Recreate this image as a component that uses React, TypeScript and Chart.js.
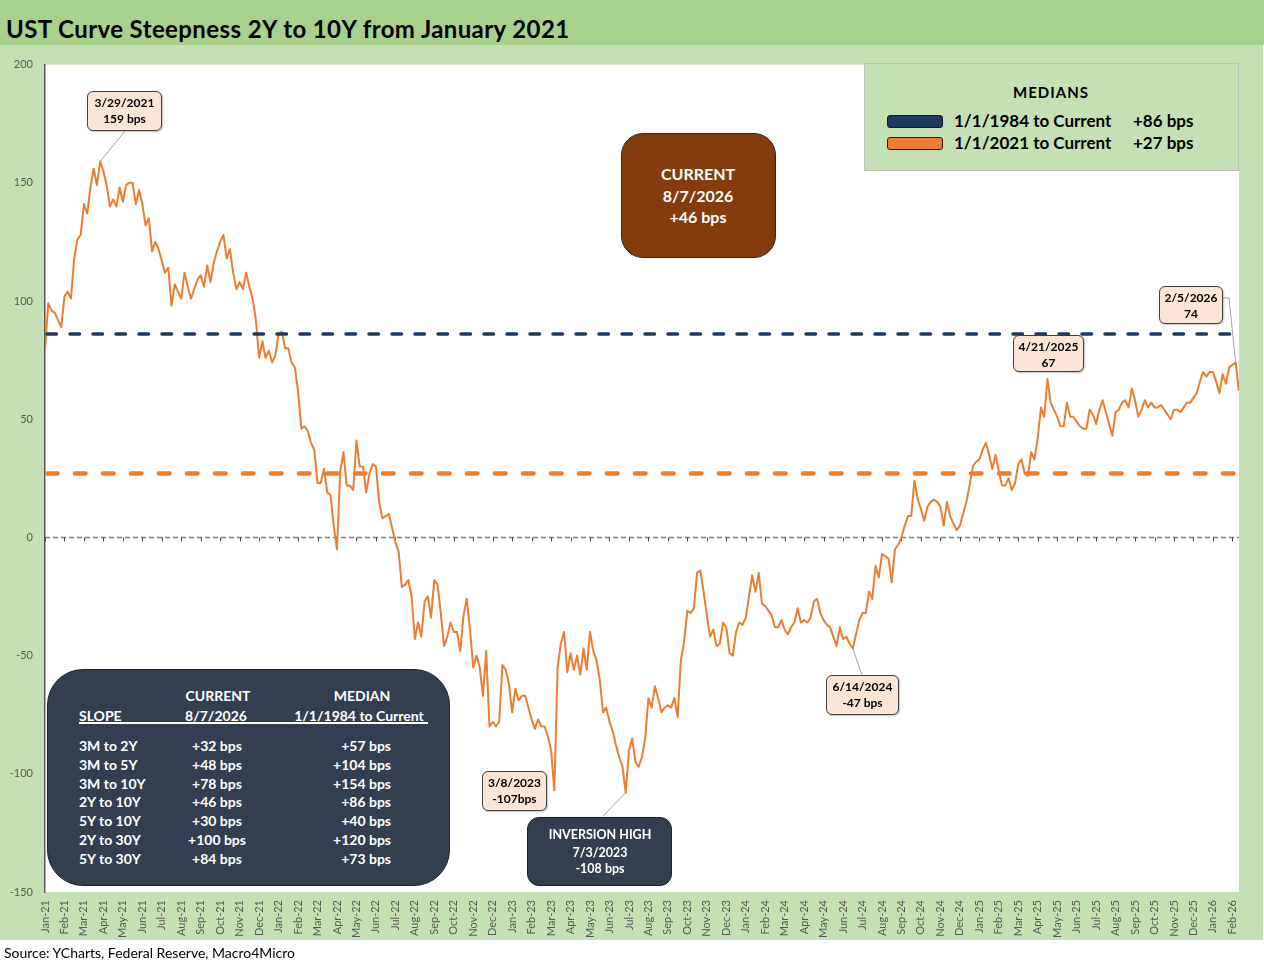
import React, { useEffect, useRef } from 'react';
import { Chart, registerables, type Plugin } from 'chart.js';

Chart.register(...registerables);

// ---- data ----------------------------------------------------------------
const MONTH_NAMES = ['Jan', 'Feb', 'Mar', 'Apr', 'May', 'Jun', 'Jul', 'Aug', 'Sep', 'Oct', 'Nov', 'Dec'];
const YEAR_SUFFIXES = ['21', '22', '23', '24', '25', '26'];
const monthLabels = YEAR_SUFFIXES.flatMap((y) => MONTH_NAMES.map((m) => `${m}-${y}`)).slice(0, 62);

// readings of the 2Y-10Y spread (bps), 6 points per month
const POINTS_PER_MONTH = 6;
const spread2021 = [
  79, 99, 96, 95, 92, 89, 102, 104, 101, 118, 126, 128, 141, 137, 148, 156,
  149, 159, 155, 149, 140, 143, 140, 148, 142, 149, 150, 150, 141, 147, 141, 132,
  135, 121, 125, 122, 117, 112, 114, 98, 107, 104, 101, 112, 106, 101, 105, 109,
  111, 106, 115, 108, 116, 121, 125, 128, 118, 122, 112, 105, 108, 105, 112, 106,
  101, 92, 76, 83, 76, 79, 74, 77,
];
const spread2022 = [
  86, 87, 80, 80, 74, 72, 62, 46, 47, 45, 40, 37, 23, 23, 29, 19,
  18, 5, -5, 28, 36, 22, 22, 20, 41, 30, 30, 19, 27, 31, 30, 15,
  8, 9, 10, 4, -2, -6, -21, -20, -18, -25, -43, -36, -42, -27, -25, -34,
  -18, -20, -32, -46, -42, -36, -40, -40, -48, -33, -26, -39, -55, -50, -55, -67,
  -48, -80, -78, -80, -78, -54, -56, -62,
];
const spread2023 = [
  -74, -64, -69, -67, -67, -72, -77, -81, -77, -80, -80, -84, -90, -107, -55, -45,
  -40, -57, -49, -56, -50, -58, -47, -56, -40, -48, -52, -60, -74, -72, -78, -82,
  -88, -93, -97, -108, -90, -85, -95, -97, -93, -85, -68, -72, -63, -68, -74, -72,
  -71, -72, -68, -76, -52, -44, -31, -32, -30, -15, -14, -23, -33, -42, -39, -46,
  -45, -36, -38, -49, -50, -40, -36, -37,
];
const spread2024 = [
  -34, -25, -16, -23, -15, -28, -29, -31, -33, -38, -38, -35, -39, -41, -38, -36,
  -30, -36, -35, -36, -34, -27, -26, -32, -35, -37, -38, -42, -46, -38, -43, -42,
  -45, -47, -41, -35, -32, -32, -23, -26, -12, -17, -7, -8, -9, -19, -5, -3,
  0, 5, 9, 9, 24, 16, 12, 7, 13, 15, 16, 15, 13, 5, 15, 9,
  6, 3, 5, 10, 15, 22, 30, 32,
];
const spread2025 = [
  33, 37, 40, 35, 29, 35, 28, 22, 22, 25, 20, 23, 31, 33, 27, 26,
  36, 33, 42, 55, 51, 67, 57, 54, 51, 47, 47, 57, 51, 51, 49, 47,
  46, 46, 54, 52, 48, 54, 58, 53, 48, 43, 53, 54, 57, 58, 55, 63,
  58, 51, 54, 58, 55, 57, 55, 55, 56, 54, 52, 50, 54, 54, 53, 55,
  57, 57, 59, 61, 66, 70, 68, 70,
];
const spread2026 = [70, 66, 61, 69, 65, 72, 73, 74, 62];
const spread = [...spread2021, ...spread2022, ...spread2023, ...spread2024, ...spread2025, ...spread2026];

const yTickValues = [-150, -100, -50, 0, 50, 100, 150, 200];

const medianNames = ['1/1/1984 to Current', '1/1/2021 to Current'];
const medianValues = [86, 27];

const calloutDates = ['3/29/2021', '3/8/2023', '6/14/2024', '4/21/2025', '2/5/2026'];
const calloutValues = ['159 bps', '-107bps', '-47 bps', '67', '74'];
const calloutPoint = [17, 157, 249, 309, 367];

const inversionHighPoint = 179;

const currentDate = '8/7/2026';
const currentSpread = 46;

const slopeNames = ['3M to 2Y', '3M to 5Y', '3M to 10Y', '2Y to 10Y', '5Y to 10Y', '2Y to 30Y', '5Y to 30Y'];
const slopeCurrent = [32, 48, 78, 46, 30, 100, 84];
const slopeMedian = [57, 104, 154, 86, 40, 120, 73];

// ---- styles / layout --------------------------------------------------------
const ORANGE = '#ed7d31';
const NAVY = '#203864';
const medianColors = [NAVY, ORANGE];
const FONT = 'Lato, "Open Sans", sans-serif';
const CANVAS_TOP = 46;

const calloutBoxes = [
  { left: 87, top: 91, w: 75, h: 40, leader: [[125, 131]] },
  { left: 482, top: 771, w: 65, h: 40, leader: [] as number[][] },
  { left: 826, top: 675, w: 73, h: 40, leader: [[862, 675]] },
  { left: 1013, top: 335, w: 71, h: 37, leader: [] as number[][] },
  { left: 1159, top: 286, w: 64, h: 38, leader: [[1223, 298], [1229, 298]] },
];

const fmt = (v: number) => `${v >= 0 ? '+' : ''}${v} bps`;

const chartDecor: Plugin<'line'> = {
  id: 'chartDecor',
  beforeDraw(chart) {
    const { ctx, chartArea: a } = chart;
    ctx.save();
    ctx.fillStyle = '#ffffff';
    ctx.fillRect(a.left, a.top, a.right - a.left, a.bottom - a.top);
    ctx.restore();
  },
  beforeDatasetsDraw(chart) {
    const { ctx, chartArea: a, scales } = chart;
    const y0 = scales.y.getPixelForValue(0);
    ctx.save();
    ctx.strokeStyle = '#7f7f7f';
    ctx.lineWidth = 1.5;
    ctx.setLineDash([5, 3]);
    ctx.beginPath();
    ctx.moveTo(a.left, y0);
    ctx.lineTo(a.right, y0);
    ctx.stroke();
    ctx.setLineDash([]);
    ctx.lineWidth = 1;
    ctx.strokeStyle = '#404040';
    monthLabels.forEach((_, i) => {
      const x = Math.round(scales.x.getPixelForValue(i)) + 0.5;
      ctx.beginPath();
      ctx.moveTo(x, y0);
      ctx.lineTo(x, y0 + 4);
      ctx.stroke();
    });
    ctx.restore();
  },
  afterDatasetsDraw(chart) {
    const { ctx, chartArea: a, scales } = chart;
    ctx.save();
    // median lines
    const widths = [3.5, 4.5];
    const dashes = [[9.5, 13.5], [10.5, 17.5]];
    medianValues.forEach((v, k) => {
      const y = scales.y.getPixelForValue(v);
      ctx.strokeStyle = medianColors[k];
      ctx.lineWidth = widths[k];
      ctx.lineCap = 'round';
      ctx.setLineDash(dashes[k]);
      ctx.beginPath();
      ctx.moveTo(a.left + 2, y);
      ctx.lineTo(a.right - 2, y);
      ctx.stroke();
    });
    // leader lines
    ctx.setLineDash([]);
    ctx.lineCap = 'butt';
    ctx.lineWidth = 1;
    ctx.strokeStyle = '#a6a6a6';
    const pt = (p: number) => [scales.x.getPixelForValue(p / POINTS_PER_MONTH), scales.y.getPixelForValue(spread[p])];
    const leaders: number[][][] = calloutBoxes.map((b, k) =>
      b.leader.length ? [...b.leader.map(([x, y]) => [x, y - CANVAS_TOP]), pt(calloutPoint[k])] : []
    );
    leaders.push([[603, 816 - CANVAS_TOP], pt(inversionHighPoint)]);
    leaders.forEach((path) => {
      if (!path.length) return;
      ctx.beginPath();
      path.forEach(([x, y], j) => (j ? ctx.lineTo(x, y) : ctx.moveTo(x, y)));
      ctx.stroke();
    });
    ctx.restore();
  },
};

type TxtProps = {
  x: number;
  y: number;
  size: number;
  align?: 'left' | 'center' | 'right';
  bold?: boolean;
  color?: string;
  spacing?: number;
  children: React.ReactNode;
};

const Txt = ({ x, y, size, align = 'left', bold = true, color = '#000', spacing, children }: TxtProps) => (
  <div
    style={{
      position: 'absolute',
      left: x,
      top: y - size,
      height: size * 2,
      lineHeight: `${size * 2}px`,
      fontSize: size,
      fontWeight: bold ? 700 : 400,
      letterSpacing: spacing,
      color,
      whiteSpace: 'nowrap',
      transform: align === 'center' ? 'translateX(-50%)' : align === 'right' ? 'translateX(-100%)' : undefined,
    }}
  >
    {children}
  </div>
);

const Box = ({ left, top, w, h, bg, radius, border = '1px solid #404040', shadow }: any) => (
  <div
    style={{
      position: 'absolute',
      left,
      top,
      width: w,
      height: h,
      background: bg,
      borderRadius: radius,
      border,
      boxSizing: 'border-box',
      boxShadow: shadow,
    }}
  />
);

const SteepnessChart: React.FC = () => {
  const canvasRef = useRef<HTMLCanvasElement>(null);
  const chartRef = useRef<Chart | null>(null);

  useEffect(() => {
    if (!canvasRef.current) return;
    if (chartRef.current) {
      chartRef.current.destroy();
      chartRef.current = null;
    }
    Chart.defaults.font.family = FONT;
    chartRef.current = new Chart(canvasRef.current, {
      type: 'line',
      data: {
        datasets: [
          {
            data: spread.map((v, i) => ({ x: i / POINTS_PER_MONTH, y: v })),
            borderColor: ORANGE,
            borderWidth: 2,
            pointRadius: 0,
            tension: 0,
            borderJoinStyle: 'round',
          },
        ],
      },
      options: {
        animation: false,
        responsive: false,
        maintainAspectRatio: false,
        layout: { padding: { top: 18, right: 25, left: 0, bottom: 0 } },
        plugins: { legend: { display: false }, tooltip: { enabled: false } },
        scales: {
          x: {
            type: 'linear',
            min: 0,
            max: 61.34,
            grid: { display: false, drawTicks: false },
            border: { display: false },
            afterBuildTicks: (scale: any) => {
              scale.ticks = monthLabels.map((_, i) => ({ value: i }));
            },
            afterFit: (scale: any) => {
              scale.height = 48;
            },
            ticks: {
              autoSkip: false,
              minRotation: 90,
              maxRotation: 90,
              padding: 8,
              color: '#595959',
              font: { size: 11, family: FONT },
              callback: (v: any) => monthLabels[v as number] ?? '',
            },
          },
          y: {
            min: -150,
            max: 200,
            grid: { display: false, drawTicks: false },
            border: { display: true, color: '#595959', width: 1.5 },
            afterBuildTicks: (scale: any) => {
              scale.ticks = yTickValues.map((v) => ({ value: v }));
            },
            afterFit: (scale: any) => {
              scale.width = 45;
            },
            ticks: {
              padding: 12,
              color: '#595959',
              font: { size: 11, family: FONT },
            },
          },
        },
      },
      plugins: [chartDecor],
    });
    return () => {
      if (chartRef.current) {
        chartRef.current.destroy();
        chartRef.current = null;
      }
    };
  }, []);

  return <canvas ref={canvasRef} width={1264} height={894} style={{ position: 'absolute', left: 0, top: CANVAS_TOP }} />;
};

export default function App() {
  useEffect(() => {
    document.body.style.margin = '0';
    document.body.style.overflow = 'hidden';
  }, []);

  const rowY = (k: number) => 746 + k * 18.8;

  return (
    <div style={{ position: 'absolute', left: 0, top: 0, width: 1264, height: 969, background: '#fff', fontFamily: FONT, overflow: 'hidden' }}>
      <div style={{ position: 'absolute', left: 0, top: 0, width: 1264, height: 45, background: '#a9d18e' }} />
      <div style={{ position: 'absolute', left: 0, top: 45, width: 1263, height: 895, background: '#c5e0b4' }} />
      <Txt x={6} y={29} size={24} spacing={0.4}>UST Curve Steepness 2Y to 10Y from January 2021</Txt>

      <SteepnessChart />

      {/* medians legend */}
      <Box left={864} top={63} w={375} h={108} bg="#c5e0b4" border="1px solid #bfbfbf" />
      <Txt x={1051} y={92} size={15} align="center" spacing={1}>MEDIANS</Txt>
      {medianNames.map((n, k) => (
        <React.Fragment key={n}>
          <div style={{ position: 'absolute', left: 887, top: 115 + k * 22, width: 56, height: 13, background: medianColors[k], border: '1px solid #1a1a1a', borderRadius: 3, boxSizing: 'border-box' }} />
          <Txt x={954} y={121 + k * 22} size={17}>{n}</Txt>
          <Txt x={1133} y={121 + k * 22} size={17}>{fmt(medianValues[k])}</Txt>
        </React.Fragment>
      ))}

      {/* current box */}
      <Box left={621} top={133} w={155} h={125} bg="#843c0c" radius={22} border="1.5px solid #2b2b2b" />
      <Txt x={698} y={174} size={16} align="center" color="#fff">CURRENT</Txt>
      <Txt x={698} y={196} size={16} align="center" color="#fff">{currentDate}</Txt>
      <Txt x={698} y={217} size={16} align="center" color="#fff">{fmt(currentSpread)}</Txt>

      {/* callouts */}
      {calloutBoxes.map((b, k) => (
        <React.Fragment key={calloutDates[k]}>
          <Box left={b.left} top={b.top} w={b.w} h={b.h} bg="#fbe5d6" radius={6} border="1px solid #404040" shadow="1px 1px 2px rgba(0,0,0,0.25)" />
          <Txt x={b.left + b.w / 2} y={b.top + 12} size={12} align="center">{calloutDates[k]}</Txt>
          <Txt x={b.left + b.w / 2} y={b.top + 28} size={12} align="center">{calloutValues[k]}</Txt>
        </React.Fragment>
      ))}

      {/* inversion high */}
      <Box left={527} top={817} w={145} h={69} bg="#333f50" radius={12} border="1.5px solid #1f1f1f" />
      <Txt x={600} y={834} size={12.5} align="center" color="#fff">INVERSION HIGH</Txt>
      <Txt x={600} y={852} size={12.5} align="center" color="#fff">7/3/2023</Txt>
      <Txt x={600} y={868} size={12.5} align="center" color="#fff">-108 bps</Txt>

      {/* slope table */}
      <Box left={47} top={669} w={403} h={217} bg="#333f50" radius={36} border="1.5px solid #1f1f1f" />
      <Txt x={218} y={696} size={14} align="center" color="#fff">CURRENT</Txt>
      <Txt x={362} y={696} size={14} align="center" color="#fff">MEDIAN</Txt>
      <Txt x={79} y={716} size={14} color="#fff">SLOPE</Txt>
      <Txt x={216} y={716} size={14} align="center" color="#fff">{currentDate}</Txt>
      <Txt x={359} y={716} size={14} align="center" color="#fff">1/1/1984 to Current</Txt>
      <div style={{ position: 'absolute', left: 79, top: 722, width: 349, height: 1.5, background: '#fff' }} />
      {slopeNames.map((n, k) => (
        <React.Fragment key={n}>
          <Txt x={79} y={rowY(k)} size={14} color="#fff">{n}</Txt>
          <Txt x={217} y={rowY(k)} size={14} align="center" color="#fff">{fmt(slopeCurrent[k])}</Txt>
          <Txt x={391} y={rowY(k)} size={14} align="right" color="#fff">{fmt(slopeMedian[k])}</Txt>
        </React.Fragment>
      ))}

      <Txt x={4} y={953} size={14} bold={false}>Source: YCharts, Federal Reserve, Macro4Micro</Txt>
    </div>
  );
}
